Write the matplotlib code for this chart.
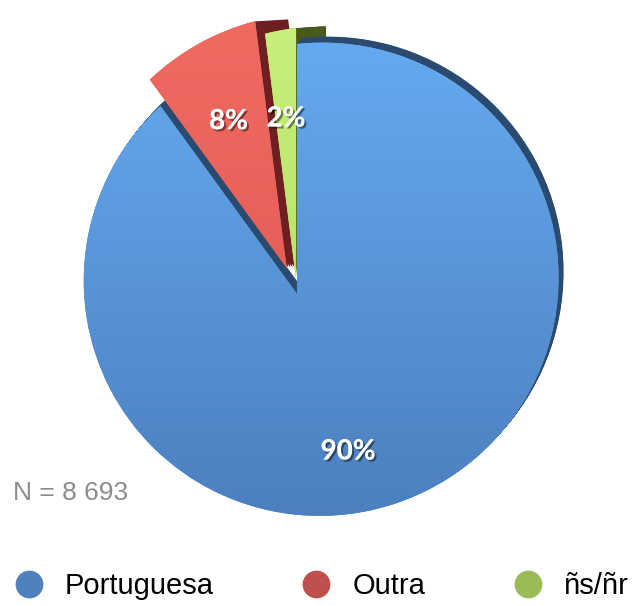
# 3D-look pie of language (Portuguesa / Outra / ns-nr), N = 8 693
import numpy as np
import matplotlib.pyplot as plt
import matplotlib.patheffects as pe
from matplotlib.patches import Wedge
from matplotlib.lines import Line2D
from matplotlib.transforms import Transform, Affine2D
from matplotlib.colors import LinearSegmentedColormap

labels = ["Portuguesa", "Outra", "ñs/ñr"]
values = [90, 8, 2]
explode = [0, 0.12, 0.06]
n_total = "8 693"

face_top = ["#66adf3", "#f06b62", "#c8f07a"]
face_bottom = ["#4c7ebd", "#dc5550", "#aed964"]
side_colors = ["#2b4a70", "#6e1f22", "#4a5a1c"]
side_shift = [(5, -6), (33, -2), (30, -2)]
label_dist = [0.72, 0.66, 0.66]   # label distance from each slice's own tip
legend_colors = ["#4f81bd", "#c0504d", "#9bbb59"]


class Tilt(Transform):
    # fake perspective: unit pie -> pixel coords (y down)
    input_dims = 2
    output_dims = 2

    def __init__(self, cx, cy, s, p, q):
        super().__init__()
        self.cx, self.cy, self.s, self.p, self.q = cx, cy, s, p, q

    def transform_non_affine(self, xy):
        xy = np.asarray(xy, dtype=float)
        pts = xy.reshape(-1, 2)
        w = 1 + self.p * pts[:, 0] + self.q * pts[:, 1]
        out = np.column_stack([self.cx + self.s * pts[:, 0] / w,
                               self.cy - self.s * pts[:, 1] / w])
        return out.reshape(xy.shape)


fig = plt.figure(figsize=(6.35, 6.06), dpi=100)
ax = fig.add_axes([0, 0, 1, 1])
tilt = Tilt(297, 294, 234.5, -0.1015, -0.062)
to_px = tilt + ax.transData

wedges, texts, pct = ax.pie(values, explode=explode, startangle=90, counterclock=False,
                            autopct="%.0f%%", pctdistance=0.7,
                            wedgeprops=dict(transform=to_px, linewidth=0),
                            textprops=dict(transform=to_px, color="white", fontsize=20,
                                           fontweight="bold", family="Lato"))

# side faces: sweep each slice along its depth direction
dark_z = [1.2, 1.0, 1.1]
front_z = [5, 3, 4]
for w, (dx, dy), c, z in zip(wedges, side_shift, side_colors, dark_z):
    for f in np.linspace(1, 0.05, 16):
        ax.add_patch(Wedge(w.center, w.r, w.theta1, w.theta2, color=c, lw=0, zorder=z,
                           transform=tilt + Affine2D().translate(dx * f, dy * f) + ax.transData))

# front faces with a vertical gradient
grad = np.linspace(0, 1, 256)[:, None]
for w, top, bot, z in zip(wedges, face_top, face_bottom, front_z):
    w.set_zorder(z)
    w.set_facecolor(top)
    cmap = LinearSegmentedColormap.from_list("", [top, bot])
    im = ax.imshow(grad, cmap=cmap, extent=(0, 635, 530, 5), aspect="auto",
                   zorder=z + 0.5, interpolation="bilinear")
    im.set_clip_path(w)

for t, w, d in zip(pct, wedges, label_dist):
    mid = np.deg2rad((w.theta1 + w.theta2) / 2)
    t.set_position((w.center[0] + d * np.cos(mid), w.center[1] + d * np.sin(mid)))
    t.set_zorder(10)
    t.set_path_effects([pe.withSimplePatchShadow(offset=(1.5, -1.5), shadow_rgbFace="black", alpha=0.45),
                        pe.Normal()])

ax.set_xlim(0, 635)
ax.set_ylim(606, 0)
ax.set_aspect("auto")
ax.axis("off")

fig.text(13 / 635, 1 - 493 / 606, "N = " + n_total, color="#8c8c8c", fontsize=19,
         family="Liberation Sans", va="center")

handles = [Line2D([], [], ls="none", marker="o", markersize=20, markerfacecolor=c,
                  markeredgewidth=0) for c in legend_colors]
fig.legend(handles, labels, loc="center left", bbox_to_anchor=(14 / 635, 1 - 586 / 606),
           ncol=3, frameon=False, prop=dict(family="Liberation Sans", size=21),
           handlelength=1.0, handletextpad=0.75, columnspacing=3.0,
           borderpad=0, borderaxespad=0)

plt.savefig("out.png", dpi=100)
